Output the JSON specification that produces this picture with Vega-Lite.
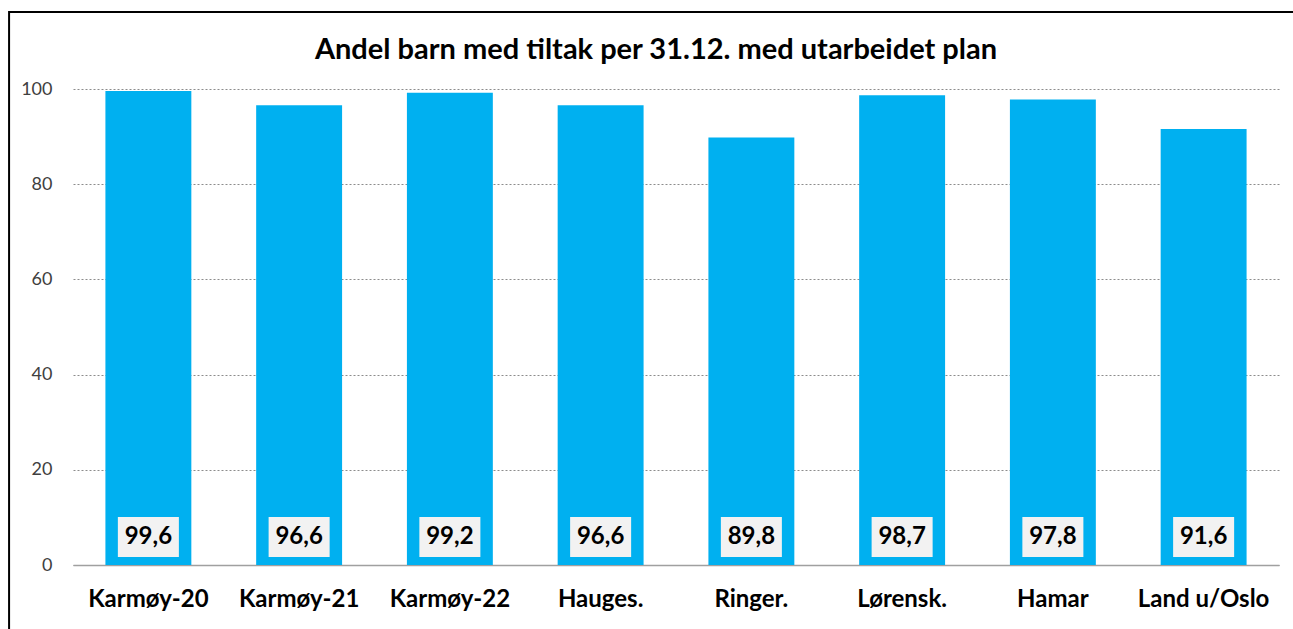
{
  "$schema": "https://vega.github.io/schema/vega-lite/v6.json",
  "width": 1206,
  "height": 476,
  "autosize": {"type": "none"},
  "padding": {"left": 73, "top": 89, "right": 14, "bottom": 64},
  "background": "white",
  "config": {
    "view": {"stroke": null},
    "font": "Lato",
    "locale": {"number": {"decimal": ",", "thousands": " ", "grouping": [3], "currency": ["", " kr"]}}
  },
  "title": {
    "text": "Andel barn med tiltak per 31.12. med utarbeidet plan",
    "fontSize": 29,
    "fontWeight": "bold",
    "font": "Lato",
    "color": "black",
    "anchor": "middle",
    "baseline": "alphabetic",
    "dx": -20,
    "offset": 0,
    "dy": 77
  },
  "data": {
    "values": [
      {"region": "Karmøy-20", "value": 99.6},
      {"region": "Karmøy-21", "value": 96.6},
      {"region": "Karmøy-22", "value": 99.2},
      {"region": "Hauges.", "value": 96.6},
      {"region": "Ringer.", "value": 89.8},
      {"region": "Lørensk.", "value": 98.7},
      {"region": "Hamar", "value": 97.8},
      {"region": "Land u/Oslo", "value": 91.6}
    ]
  },
  "resolve": {"scale": {"x": "independent"}, "axis": {"x": "independent"}},
  "layer": [
    {
      "data": {"values": [{"frame": 1}]},
      "mark": {"type": "rect", "fill": null, "stroke": "black", "strokeWidth": 2, "clip": false},
      "encoding": {
        "x": {"datum": -0.053, "type": "quantitative", "scale": {"domain": [0, 1]}, "axis": null},
        "x2": {"datum": 1.05},
        "y": {"datum": 116.2, "type": "quantitative", "scale": {"domain": [0, 100], "nice": false}},
        "y2": {"datum": -16}
      }
    },
    {
      "layer": [
        {
          "mark": {"type": "bar", "color": "#00B0F0"},
          "encoding": {
            "x": {
              "field": "region", "type": "nominal", "sort": null,
              "scale": {"paddingInner": 0.43, "paddingOuter": 0.215},
              "axis": {"title": null, "labelAngle": 0, "labelFontSize": 24, "labelFontWeight": "bold", "labelColor": "black", "labelFont": "Lato", "domainColor": "#A0A0A0", "domainWidth": 1.5, "ticks": false, "tickSize": 0, "labelPadding": 22}
            },
            "y": {
              "field": "value", "type": "quantitative",
              "scale": {"domain": [0, 100], "nice": false},
              "axis": {"title": null, "values": [0, 20, 40, 60, 80, 100], "grid": true, "gridDash": [2, 2], "gridColor": "#8C8C8C", "domain": false, "ticks": false, "tickSize": 0, "labelPadding": 21, "labelFontSize": 18, "labelColor": "#404040", "labelFont": "Lato"}
            }
          }
        },
        {
          "mark": {"type": "bar", "color": "#F2F2F2", "width": {"band": 0.71}},
          "encoding": {
            "x": {"field": "region", "type": "nominal", "sort": null},
            "y": {"datum": 1.7, "type": "quantitative"},
            "y2": {"datum": 10.1}
          }
        },
        {
          "mark": {"type": "text", "fontSize": 24, "fontWeight": "bold", "baseline": "middle", "color": "black", "font": "Lato"},
          "encoding": {
            "x": {"field": "region", "type": "nominal", "sort": null},
            "y": {"datum": 5.9, "type": "quantitative"},
            "text": {"field": "value", "type": "quantitative", "format": ".1f"}
          }
        }
      ]
    }
  ]
}
